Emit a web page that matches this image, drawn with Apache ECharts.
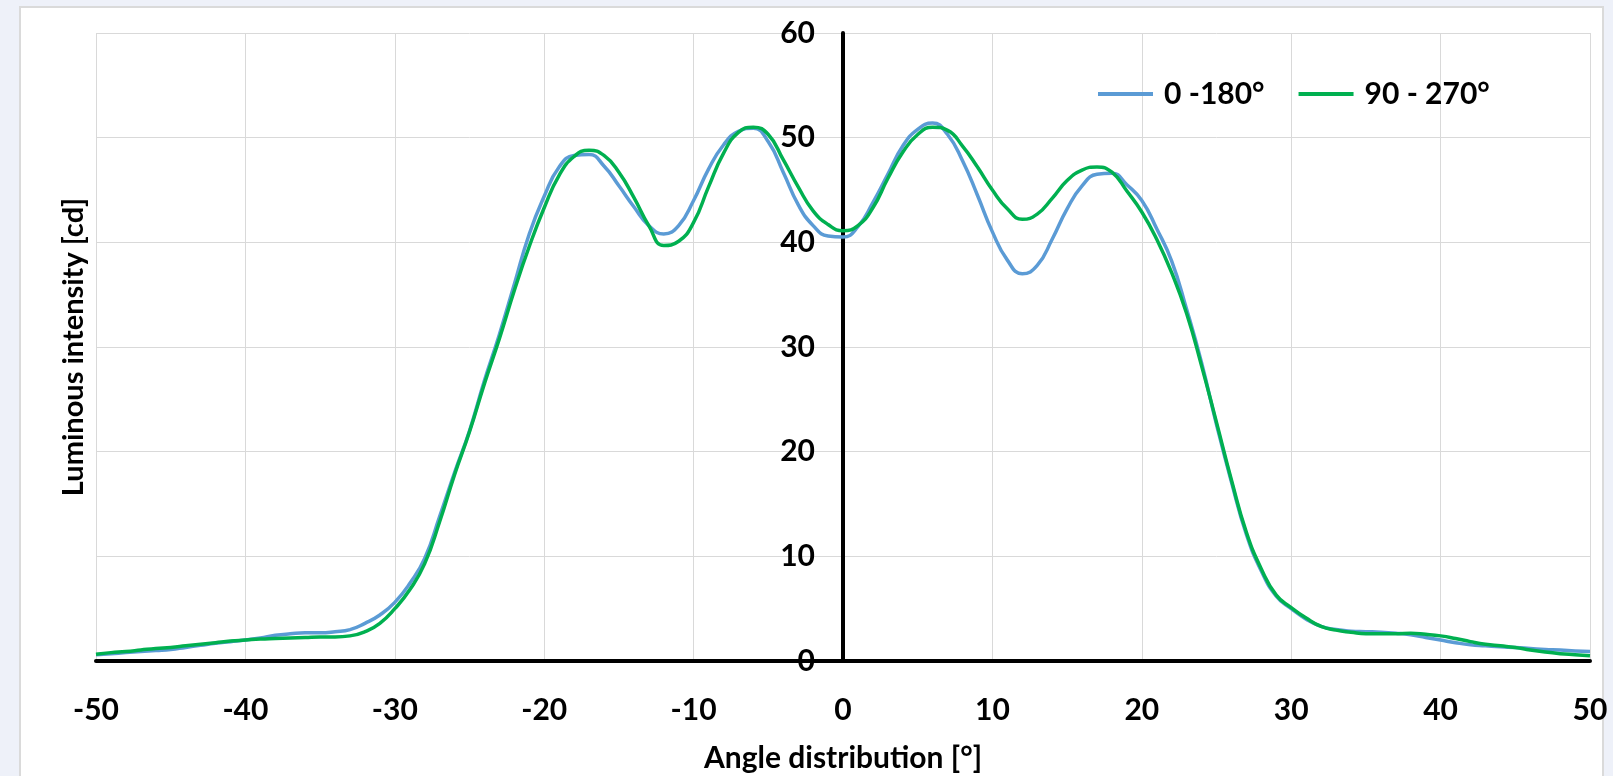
<!DOCTYPE html>
<html>
<head>
<meta charset="utf-8">
<script src="https://cdn.jsdelivr.net/npm/echarts@6/dist/echarts.min.js"></script>
<style>
  html, body { margin: 0; padding: 0; background: #eef1f9; width: 1613px; height: 776px; overflow: hidden; }
  #panel { position: absolute; left: 19px; top: 6px; width: 1581px; height: 800px; background: #fff; border: 2px solid #dadada; }
  #chart { position: absolute; left: 0; top: 0; width: 1613px; height: 776px; }
</style>
</head>
<body>
<div id="panel"></div>
<div id="chart"></div>
<script>
// ---- data ----
const seriesNames = ['0 -180°', '90 - 270°'];
const xTicks = [-50, -40, -30, -20, -10, 0, 10, 20, 30, 40, 50];
const yTicks = [0, 10, 20, 30, 40, 50, 60];

// angles in degrees, 1° steps from -50 to 50
const angles = [-50, -49, -48, -47, -46, -45, -44, -43, -42, -41, -40, -39, -38, -37, -36, -35, -34, -33, -32, -31,
  -30, -29, -28, -27, -26, -25, -24, -23, -22, -21, -20, -19, -18, -17, -16, -15, -14, -13, -12, -11,
  -10, -9, -8, -7, -6, -5, -4, -3, -2, -1, 0, 1, 2, 3, 4, 5, 6, 7, 8, 9,
  10, 11, 12, 13, 14, 15, 16, 17, 18, 19, 20, 21, 22, 23, 24, 25, 26, 27, 28, 29,
  30, 31, 32, 33, 34, 35, 36, 37, 38, 39, 40, 41, 42, 43, 44, 45, 46, 47, 48, 49, 50];

// 0 -180° (blue)
const valuesA = [0.6, 0.7, 0.8, 0.9, 1.0, 1.1, 1.3, 1.5, 1.7, 1.85, 2.0, 2.2, 2.45, 2.6, 2.7, 2.7, 2.8, 3.0, 3.6, 4.4,
  5.6, 7.4, 9.8, 13.8, 18.0, 22.0, 26.8, 31.2, 36.0, 40.8, 44.4, 47.2, 48.3, 48.4, 47.3, 45.4, 43.4, 41.6, 40.8, 41.6,
  44.0, 47.0, 49.3, 50.6, 50.9, 49.6, 46.7, 43.6, 41.6, 40.6, 40.5, 41.5, 43.8, 46.5, 49.2, 50.8, 51.4, 50.3, 47.8, 44.5,
  41.0, 38.3, 37.0, 37.8, 40.3, 43.2, 45.4, 46.5, 46.6, 45.5, 44.0, 41.3, 38.2, 33.6, 28.5, 22.6, 17.1, 12.1, 8.6, 6.2,
  5.0, 4.0, 3.3, 3.0, 2.85, 2.8, 2.75, 2.65, 2.5, 2.25, 2.0, 1.75, 1.55, 1.45, 1.35, 1.3, 1.2, 1.1, 1.05, 0.95, 0.9];

// 90 - 270° (green)
const valuesB = [0.65, 0.8, 0.9, 1.05, 1.2, 1.3, 1.45, 1.6, 1.75, 1.9, 2.0, 2.1, 2.15, 2.2, 2.25, 2.3, 2.3, 2.4, 2.8, 3.6,
  5.0, 6.8, 9.3, 13.3, 17.8, 21.9, 26.5, 30.8, 35.4, 39.6, 43.3, 46.4, 48.2, 48.8, 48.3, 46.7, 44.3, 41.6, 39.7, 40.1,
  41.9, 45.3, 48.5, 50.5, 51.0, 50.3, 47.9, 45.3, 43.0, 41.7, 41.1, 41.6, 43.3, 46.1, 48.6, 50.3, 51.0, 50.7, 49.2, 47.2,
  45.0, 43.2, 42.2, 42.7, 44.2, 45.9, 46.9, 47.2, 46.7, 44.9, 42.9, 40.3, 37.1, 33.2, 28.2, 22.8, 17.3, 12.3, 8.8, 6.3,
  5.1, 4.1, 3.3, 2.95, 2.75, 2.6, 2.6, 2.6, 2.65, 2.55, 2.4, 2.15, 1.85, 1.6, 1.45, 1.3, 1.05, 0.85, 0.7, 0.6, 0.5];

const colors = ['#5b9bd5', '#00b050'];
const FONT = 'Lato';

function pairs(xs, ys) { return xs.map((x, i) => [x, ys[i]]); }

const chart = echarts.init(document.getElementById('chart'), null, { renderer: 'canvas' });
chart.setOption({
  backgroundColor: 'transparent',
  animation: false,
  textStyle: { fontFamily: FONT },
  grid: { left: 96, right: 23, top: 33, bottom: 115, containLabel: false, outerBoundsMode: 'none' },
  legend: {
    left: 1093, top: 74,
    itemWidth: 55, itemHeight: 4, itemGap: 34,
    textStyle: { fontFamily: FONT, fontWeight: 'bold', fontSize: 30, color: '#000', padding: [0, 0, 0, 6] },
    data: seriesNames.map((n, i) => ({ name: n, icon: 'rect', itemStyle: { color: colors[i] } }))
  },
  xAxis: {
    type: 'value',
    min: xTicks[0], max: xTicks[xTicks.length - 1], interval: 10,
    axisLine: { show: true, onZero: true, lineStyle: { color: '#000', width: 4 } },
    axisTick: { show: false },
    axisLabel: { margin: 34, fontFamily: FONT, fontWeight: 'bold', fontSize: 30, color: '#000' },
    splitLine: { show: true, lineStyle: { color: '#d9d9d9', width: 1 } },
    name: 'Angle distribution [°]',
    nameLocation: 'middle', nameGap: 82,
    nameTextStyle: { fontFamily: FONT, fontWeight: 'bold', fontSize: 30, color: '#000' }
  },
  yAxis: {
    type: 'value',
    min: yTicks[0], max: yTicks[yTicks.length - 1], interval: 10,
    offset: 0,
    axisLine: { show: true, onZero: false, lineStyle: { color: '#000', width: 4 } },
    axisTick: { show: false },
    axisLabel: { margin: 28, fontFamily: FONT, fontWeight: 'bold', fontSize: 30, color: '#000' },
    splitLine: { show: true, lineStyle: { color: '#d9d9d9', width: 1 } },
    name: 'Luminous intensity [cd]',
    nameLocation: 'middle', nameGap: 755, nameRotate: 90,
    nameTextStyle: { fontFamily: FONT, fontWeight: 'bold', fontSize: 29, color: '#000' }
  },
  series: [
    { name: seriesNames[0], type: 'line', data: pairs(angles, valuesA), smooth: 0.5, symbol: 'none',
      lineStyle: { color: colors[0], width: 3.5 }, itemStyle: { color: colors[0] }, z: 2 },
    { name: seriesNames[1], type: 'line', data: pairs(angles, valuesB), smooth: 0.5, symbol: 'none',
      lineStyle: { color: colors[1], width: 3.5 }, itemStyle: { color: colors[1] }, z: 3 }
  ]
});

// place the vertical axis at angle 0 using the library's own x scale
const pxZero = chart.convertToPixel({ xAxisIndex: 0 }, 0);
const pxMin = chart.convertToPixel({ xAxisIndex: 0 }, xTicks[0]);
chart.setOption({ yAxis: { offset: -(pxZero - pxMin) } });
</script>
</body>
</html>
